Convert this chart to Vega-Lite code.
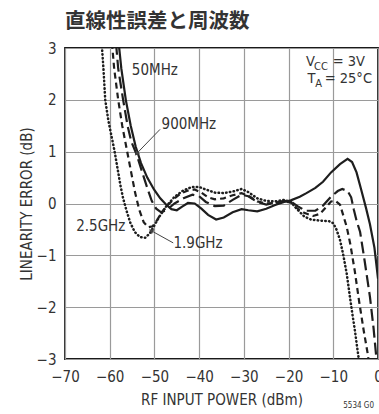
{
  "$schema": "https://vega.github.io/schema/vega-lite/v6.json",
  "width": 313,
  "height": 311,
  "autosize": {"type": "none"},
  "padding": {"left": 65, "top": 48, "right": 1, "bottom": 55},
  "background": "white",
  "title": {"text": "直線性誤差と周波数", "anchor": "start", "frame": "group", "font": "Noto Sans CJK JP", "fontSize": 20.5, "fontWeight": "bold", "color": "#333333", "baseline": "alphabetic", "offset": -7},
  "config": {
    "view": {"stroke": "#1a1a1a", "strokeWidth": 1.8},
    "axis": {
      "labelFont": "DejaVu Sans Condensed, sans-serif",
      "labelFontSize": 15,
      "labelColor": "#333333",
      "titleFont": "DejaVu Sans Condensed, sans-serif",
      "titleFontSize": 15,
      "titleFontWeight": "normal",
      "titleColor": "#333333",
      "ticks": false,
      "domain": false,
      "gridColor": "#9a9a9a",
      "gridWidth": 1.2,
      "gridOpacity": 1,
      "labelOverlap": false
    }
  },
  "datasets": {
    "s50": [
      {"x": -58.0, "y": 3.1}, {"x": -57.4, "y": 2.6}, {"x": -56.4, "y": 2.0}, {"x": -55.3, "y": 1.5}, {"x": -54.2, "y": 1.1}, {"x": -53.0, "y": 0.78}, {"x": -51.6, "y": 0.5}, {"x": -50.1, "y": 0.27}, {"x": -48.7, "y": 0.1}, {"x": -47.4, "y": -0.02}, {"x": -46.2, "y": -0.11}, {"x": -45.0, "y": -0.13}, {"x": -43.8, "y": -0.06}, {"x": -42.5, "y": 0.01}, {"x": -41.0, "y": 0.0}, {"x": -39.5, "y": -0.1}, {"x": -38.0, "y": -0.22}, {"x": -36.2, "y": -0.31}, {"x": -34.5, "y": -0.27}, {"x": -32.5, "y": -0.17}, {"x": -30.5, "y": -0.11}, {"x": -29.0, "y": -0.13}, {"x": -27.0, "y": -0.15}, {"x": -25.0, "y": -0.1}, {"x": -23.0, "y": -0.03}, {"x": -21.0, "y": 0.03}, {"x": -19.5, "y": 0.06}, {"x": -17.5, "y": 0.13}, {"x": -16.0, "y": 0.2}, {"x": -14.0, "y": 0.3}, {"x": -12.3, "y": 0.42}, {"x": -10.5, "y": 0.6}, {"x": -8.5, "y": 0.76}, {"x": -6.8, "y": 0.86}, {"x": -5.8, "y": 0.8}, {"x": -4.8, "y": 0.6}, {"x": -3.8, "y": 0.28}, {"x": -2.7, "y": -0.08}, {"x": -1.8, "y": -0.4}, {"x": -0.8, "y": -0.85}, {"x": 0.0, "y": -1.45}
    ],
    "s900": [
      {"x": -58.6, "y": 3.1}, {"x": -58.1, "y": 2.6}, {"x": -57.0, "y": 2.0}, {"x": -56.0, "y": 1.5}, {"x": -55.2, "y": 1.2}, {"x": -54.0, "y": 0.95}, {"x": -52.8, "y": 0.62}, {"x": -51.6, "y": 0.3}, {"x": -50.6, "y": 0.05}, {"x": -49.6, "y": -0.1}, {"x": -48.5, "y": -0.17}, {"x": -47.2, "y": -0.12}, {"x": -45.5, "y": 0.0}, {"x": -43.5, "y": 0.1}, {"x": -41.5, "y": 0.17}, {"x": -40.0, "y": 0.14}, {"x": -38.5, "y": 0.03}, {"x": -36.5, "y": -0.05}, {"x": -34.5, "y": -0.04}, {"x": -32.5, "y": 0.07}, {"x": -30.5, "y": 0.17}, {"x": -29.0, "y": 0.14}, {"x": -27.0, "y": 0.03}, {"x": -25.0, "y": -0.02}, {"x": -23.0, "y": 0.01}, {"x": -21.0, "y": 0.05}, {"x": -19.5, "y": 0.04}, {"x": -18.0, "y": -0.05}, {"x": -16.2, "y": -0.14}, {"x": -14.0, "y": -0.14}, {"x": -12.3, "y": -0.04}, {"x": -10.5, "y": 0.13}, {"x": -9.0, "y": 0.24}, {"x": -8.0, "y": 0.28}, {"x": -6.8, "y": 0.24}, {"x": -6.0, "y": 0.12}, {"x": -5.4, "y": -0.12}, {"x": -4.8, "y": -0.33}, {"x": -4.0, "y": -0.55}, {"x": -3.0, "y": -1.1}, {"x": -1.8, "y": -1.8}, {"x": -1.0, "y": -2.4}, {"x": -0.4, "y": -2.95}, {"x": -0.3, "y": -3.1}
    ],
    "s19": [
      {"x": -59.5, "y": 3.1}, {"x": -59.0, "y": 2.6}, {"x": -58.1, "y": 2.0}, {"x": -57.2, "y": 1.5}, {"x": -56.2, "y": 1.05}, {"x": -55.2, "y": 0.6}, {"x": -54.3, "y": 0.2}, {"x": -53.4, "y": -0.12}, {"x": -52.4, "y": -0.36}, {"x": -51.4, "y": -0.46}, {"x": -50.4, "y": -0.44}, {"x": -49.4, "y": -0.32}, {"x": -48.3, "y": -0.16}, {"x": -47.0, "y": -0.03}, {"x": -45.5, "y": 0.1}, {"x": -44.0, "y": 0.2}, {"x": -42.5, "y": 0.25}, {"x": -41.0, "y": 0.27}, {"x": -39.5, "y": 0.21}, {"x": -38.0, "y": 0.12}, {"x": -36.5, "y": 0.08}, {"x": -34.5, "y": 0.1}, {"x": -32.5, "y": 0.16}, {"x": -30.5, "y": 0.2}, {"x": -29.0, "y": 0.15}, {"x": -27.0, "y": 0.04}, {"x": -25.0, "y": 0.0}, {"x": -23.0, "y": 0.01}, {"x": -21.0, "y": 0.04}, {"x": -19.5, "y": 0.02}, {"x": -18.0, "y": -0.1}, {"x": -16.5, "y": -0.18}, {"x": -14.5, "y": -0.24}, {"x": -13.0, "y": -0.2}, {"x": -11.5, "y": -0.06}, {"x": -10.5, "y": 0.04}, {"x": -9.5, "y": 0.05}, {"x": -8.5, "y": -0.02}, {"x": -7.8, "y": -0.22}, {"x": -7.0, "y": -0.45}, {"x": -6.2, "y": -0.78}, {"x": -5.2, "y": -1.3}, {"x": -4.2, "y": -1.9}, {"x": -3.2, "y": -2.45}, {"x": -2.2, "y": -2.95}, {"x": -2.1, "y": -3.1}
    ],
    "s25": [
      {"x": -61.8, "y": 3.1}, {"x": -61.4, "y": 2.6}, {"x": -61.0, "y": 2.0}, {"x": -60.3, "y": 1.6}, {"x": -59.6, "y": 1.3}, {"x": -58.9, "y": 1.0}, {"x": -58.3, "y": 0.7}, {"x": -57.6, "y": 0.35}, {"x": -57.0, "y": 0.1}, {"x": -56.2, "y": -0.15}, {"x": -55.4, "y": -0.37}, {"x": -54.4, "y": -0.55}, {"x": -53.2, "y": -0.65}, {"x": -52.0, "y": -0.66}, {"x": -51.0, "y": -0.57}, {"x": -50.0, "y": -0.42}, {"x": -48.8, "y": -0.24}, {"x": -47.4, "y": -0.06}, {"x": -45.6, "y": 0.12}, {"x": -43.6, "y": 0.25}, {"x": -41.6, "y": 0.32}, {"x": -40.0, "y": 0.32}, {"x": -38.5, "y": 0.27}, {"x": -36.5, "y": 0.21}, {"x": -34.5, "y": 0.2}, {"x": -32.5, "y": 0.23}, {"x": -30.5, "y": 0.28}, {"x": -29.0, "y": 0.22}, {"x": -27.0, "y": 0.1}, {"x": -25.0, "y": 0.05}, {"x": -23.0, "y": 0.04}, {"x": -21.0, "y": 0.07}, {"x": -19.5, "y": 0.03}, {"x": -18.0, "y": -0.12}, {"x": -16.5, "y": -0.25}, {"x": -15.0, "y": -0.31}, {"x": -13.0, "y": -0.33}, {"x": -11.0, "y": -0.34}, {"x": -10.0, "y": -0.38}, {"x": -9.3, "y": -0.5}, {"x": -8.5, "y": -0.7}, {"x": -7.8, "y": -0.98}, {"x": -7.0, "y": -1.35}, {"x": -6.3, "y": -1.79}, {"x": -5.7, "y": -2.15}, {"x": -5.2, "y": -2.43}, {"x": -4.7, "y": -2.75}, {"x": -4.3, "y": -3.0}, {"x": -4.2, "y": -3.1}
    ],
    "notes": [
      {"text": "50MHz", "x": -49.9, "y": 2.57},
      {"text": "900MHz", "x": -42.3, "y": 1.54},
      {"text": "2.5GHz", "x": -62.0, "y": -0.43},
      {"text": "1.9GHz", "x": -40.25, "y": -0.76}
    ],
    "cond": [
      {"text": "V", "x": -14.1, "y": 2.645},
      {"text": "= 3V", "x": -2.9, "y": 2.645},
      {"text": "T", "x": -14.0, "y": 2.317},
      {"text": "= 25°C", "x": -1.34, "y": 2.317}
    ],
    "subs": [
      {"text": "CC", "x": -11.2, "y": 2.57},
      {"text": "A", "x": -12.5, "y": 2.24}
    ],
    "arrows": [
      {"name": "900MHz", "x": -48.75, "y": 1.43, "x2": -53.9, "y2": 0.97},
      {"name": "1.9GHz", "x": -45.8, "y": -0.76, "x2": -50.6, "y2": -0.53}
    ],
    "code": [{"text": "5534 G0", "x": 0, "y": -3}]
  },
  "layer": [
    {
      "data": {"name": "s50"},
      "mark": {"type": "line", "clip": true, "color": "#1e1e1e", "strokeWidth": 2.2},
      "encoding": {
        "x": {"field": "x", "type": "quantitative", "scale": {"domain": [-70, 0], "nice": false, "zero": false},
              "axis": {"values": [-70, -60, -50, -40, -30, -20, -10, 0], "title": "RF INPUT POWER (dBm)", "labelPadding": 10, "titlePadding": 8, "labelFlush": false}},
        "y": {"field": "y", "type": "quantitative", "scale": {"domain": [-3, 3], "nice": false, "zero": false},
              "axis": {"values": [-3, -2, -1, 0, 1, 2, 3], "title": "LINEARITY ERROR (dB)", "labelPadding": 9, "titlePadding": 2, "labelFlush": false}}
      }
    },
    {
      "data": {"name": "s900"},
      "mark": {"type": "line", "clip": true, "color": "#1e1e1e", "strokeWidth": 2.2, "strokeDash": [12, 5]},
      "encoding": {"x": {"field": "x", "type": "quantitative"}, "y": {"field": "y", "type": "quantitative"}}
    },
    {
      "data": {"name": "s19"},
      "mark": {"type": "line", "clip": true, "color": "#1e1e1e", "strokeWidth": 2.2, "strokeDash": [6, 4]},
      "encoding": {"x": {"field": "x", "type": "quantitative"}, "y": {"field": "y", "type": "quantitative"}}
    },
    {
      "data": {"name": "s25"},
      "mark": {"type": "line", "clip": true, "color": "#1e1e1e", "strokeWidth": 2.5, "strokeDash": [0.5, 3.3], "strokeCap": "round"},
      "encoding": {"x": {"field": "x", "type": "quantitative"}, "y": {"field": "y", "type": "quantitative"}}
    },
    {
      "data": {"name": "arrows"},
      "mark": {"type": "rule", "color": "#444444", "strokeWidth": 1},
      "encoding": {"x": {"field": "x", "type": "quantitative"}, "y": {"field": "y", "type": "quantitative"}, "x2": {"field": "x2"}, "y2": {"field": "y2"}}
    },
    {
      "data": {"name": "arrows"},
      "transform": [{"filter": "datum.name === '900MHz'"}],
      "mark": {"type": "point", "shape": "triangle", "filled": true, "color": "#444444", "size": 30, "angle": 224, "opacity": 1},
      "encoding": {"x": {"field": "x2", "type": "quantitative"}, "y": {"field": "y2", "type": "quantitative"}}
    },
    {
      "data": {"name": "arrows"},
      "transform": [{"filter": "datum.name === '1.9GHz'"}],
      "mark": {"type": "point", "shape": "triangle", "filled": true, "color": "#444444", "size": 30, "angle": 298, "opacity": 1},
      "encoding": {"x": {"field": "x2", "type": "quantitative"}, "y": {"field": "y2", "type": "quantitative"}}
    },
    {
      "data": {"name": "notes"},
      "mark": {"type": "text", "align": "center", "baseline": "middle", "font": "DejaVu Sans Condensed, sans-serif", "fontSize": 15, "color": "#333333"},
      "encoding": {"x": {"field": "x", "type": "quantitative"}, "y": {"field": "y", "type": "quantitative"}, "text": {"field": "text"}}
    },
    {
      "data": {"name": "cond"},
      "mark": {"type": "text", "align": "right", "baseline": "alphabetic", "font": "DejaVu Sans Condensed, sans-serif", "fontSize": 14.5, "color": "#333333"},
      "encoding": {"x": {"field": "x", "type": "quantitative"}, "y": {"field": "y", "type": "quantitative"}, "text": {"field": "text"}}
    },
    {
      "data": {"name": "subs"},
      "mark": {"type": "text", "align": "right", "baseline": "alphabetic", "font": "DejaVu Sans Condensed, sans-serif", "fontSize": 11, "color": "#333333"},
      "encoding": {"x": {"field": "x", "type": "quantitative"}, "y": {"field": "y", "type": "quantitative"}, "text": {"field": "text"}}
    },
    {
      "data": {"name": "code"},
      "mark": {"type": "text", "align": "right", "baseline": "alphabetic", "font": "DejaVu Sans Condensed, sans-serif", "fontSize": 8, "color": "#333333", "dx": -4, "dy": 49},
      "encoding": {"x": {"field": "x", "type": "quantitative"}, "y": {"field": "y", "type": "quantitative"}, "text": {"field": "text"}}
    }
  ]
}
